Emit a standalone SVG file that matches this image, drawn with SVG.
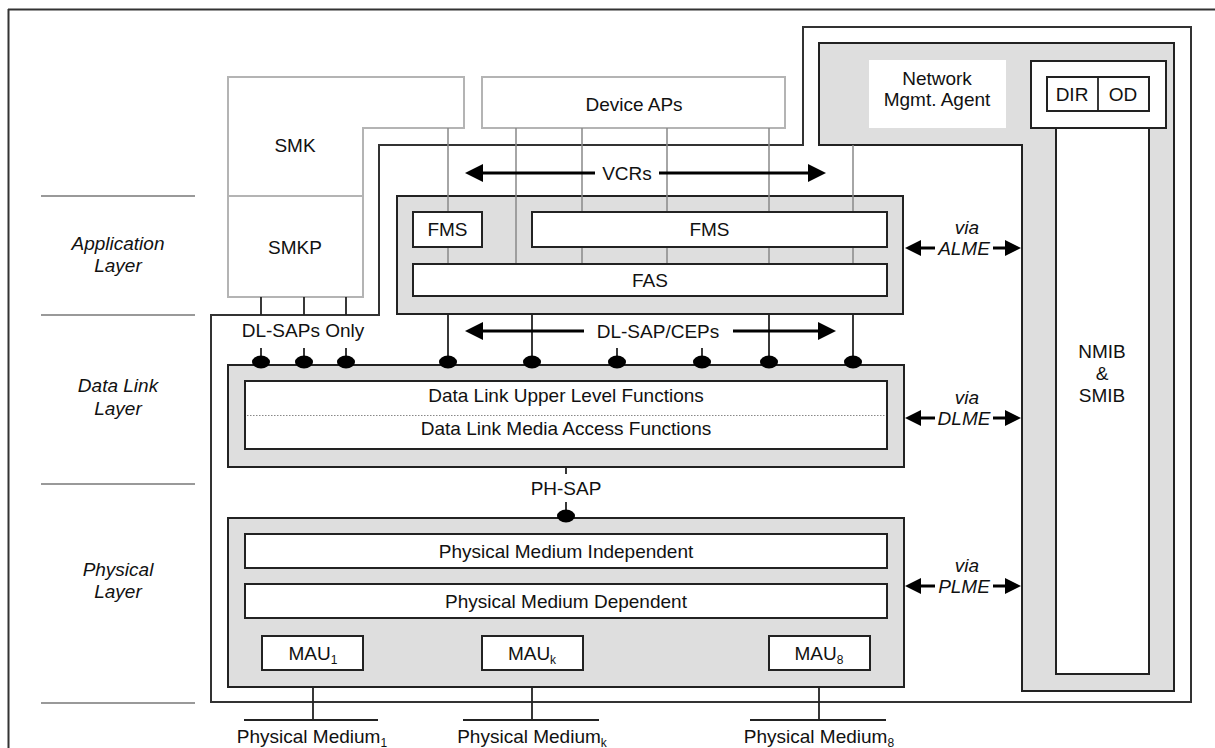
<svg xmlns="http://www.w3.org/2000/svg" width="1215" height="748" viewBox="0 0 1215 748">
<defs>
<style>
text{font-family:"Liberation Sans",Arial,sans-serif;font-size:19px;fill:#111;text-anchor:middle}
.it{font-style:italic}
.sub{font-size:12px}
.frame{fill:none;stroke:#333;stroke-width:2}
.sep{stroke:#999;stroke-width:2}
.lg{fill:#fff;stroke:#b4b4b4;stroke-width:2}
.gb{fill:#dedede;stroke:#222;stroke-width:2}
.wb{fill:#fff;stroke:#222;stroke-width:2}
.gl{stroke:#888;stroke-width:1.5;fill:none}
.bl{stroke:#222;stroke-width:1.8;fill:none}
.dot{fill:#000}
.dotted{stroke:#777;stroke-width:1;stroke-dasharray:2 1.5}
.arr{stroke:#000;stroke-width:3}
</style>
</defs>
<rect width="1215" height="748" fill="#fff"/>
<g id="frame">
<line class="frame" x1="8" y1="9.5" x2="1215" y2="9.5"/>
<line class="frame" x1="8.5" y1="9" x2="8.5" y2="748"/>
</g>
<g id="layer-labels">
<line class="sep" x1="41" y1="196" x2="195" y2="196"/>
<line class="sep" x1="41" y1="315" x2="195" y2="315"/>
<line class="sep" x1="41" y1="484" x2="195" y2="484"/>
<line class="sep" x1="41" y1="703" x2="195" y2="703"/>
<text class="it" x="118" y="250">Application</text>
<text class="it" x="118" y="272">Layer</text>
<text class="it" x="118" y="392">Data Link</text>
<text class="it" x="118" y="415">Layer</text>
<text class="it" x="118" y="576">Physical</text>
<text class="it" x="118" y="598">Layer</text>
</g>
<g id="stack-outline">
<path class="frame" d="M211,702 V315 H379 V145 H803 V27 H1191 V702 Z"/>
</g>
<g id="smk">
<path class="lg" d="M228,77 H464 V128 H363 V297 H228 Z"/>
<line stroke="#b4b4b4" stroke-width="2" x1="228" y1="196" x2="363" y2="196"/>
<text x="295" y="152">SMK</text>
<text x="295" y="254">SMKP</text>
</g>
<g id="device-aps">
<rect class="lg" x="482" y="77" width="303" height="51"/>
<text x="634" y="111">Device APs</text>
</g>
<g id="nma">
<path class="gb" d="M819,43 H1174 V691 H1022 V145 H819 Z"/>
<rect x="869" y="60" width="137" height="68" fill="#fff"/>
<text x="937" y="85">Network</text>
<text x="937" y="106">Mgmt. Agent</text>
<rect class="wb" x="1031" y="61" width="135" height="67"/>
<rect class="wb" x="1047" y="77" width="102" height="34"/>
<line class="bl" x1="1098" y1="77" x2="1098" y2="111"/>
<text x="1072" y="101">DIR</text>
<text x="1123" y="101">OD</text>
<rect class="wb" x="1056" y="128" width="93" height="546"/>
<text x="1102" y="358">NMIB</text>
<text x="1102" y="380">&amp;</text>
<text x="1102" y="402">SMIB</text>
</g>
<g id="app-layer">
<rect class="gb" x="397" y="196" width="506" height="118"/>
</g>
<g id="connectors">
<line class="gl" x1="448" y1="128" x2="448" y2="264"/>
<line class="gl" x1="516" y1="128" x2="516" y2="264"/>
<line class="gl" x1="582" y1="128" x2="582" y2="264"/>
<line class="gl" x1="667" y1="128" x2="667" y2="264"/>
<line class="gl" x1="769" y1="128" x2="769" y2="264"/>
<line class="gl" x1="853" y1="145" x2="853" y2="264"/>
<line class="bl" x1="261" y1="297" x2="261" y2="315"/>
<line class="bl" x1="304" y1="297" x2="304" y2="315"/>
<line class="bl" x1="346" y1="297" x2="346" y2="315"/>
<line class="bl" x1="261" y1="348" x2="261" y2="362"/>
<line class="bl" x1="304" y1="348" x2="304" y2="362"/>
<line class="bl" x1="346" y1="348" x2="346" y2="362"/>
<line class="bl" x1="617" y1="348" x2="617" y2="362"/>
<line class="bl" x1="702" y1="348" x2="702" y2="362"/>
<line class="bl" x1="448" y1="314" x2="448" y2="362"/>
<line class="bl" x1="532" y1="314" x2="532" y2="362"/>
<line class="bl" x1="769" y1="314" x2="769" y2="362"/>
<line class="bl" x1="853" y1="314" x2="853" y2="362"/>
<line class="bl" x1="566" y1="467" x2="566" y2="474"/>
<line class="bl" x1="566" y1="502" x2="566" y2="517"/>
<line class="bl" x1="566" y1="568" x2="566" y2="584"/>
<line class="bl" x1="313" y1="618" x2="313" y2="720"/>
<line class="bl" x1="532" y1="618" x2="532" y2="720"/>
<line class="bl" x1="819" y1="618" x2="819" y2="720"/>
<line class="bl" x1="244" y1="720" x2="378" y2="720"/>
<line class="bl" x1="463" y1="720" x2="599" y2="720"/>
<line class="bl" x1="750" y1="720" x2="886" y2="720"/>
<line class="dotted" x1="366" y1="652" x2="479" y2="652"/>
<line class="dotted" x1="598" y1="652" x2="749" y2="652"/>
<line class="arr" x1="480" y1="173" x2="595" y2="173"/>
<line class="arr" x1="659" y1="173" x2="810" y2="173"/>
<polygon points="465,173 483,164 483,182"/>
<polygon points="826,173 808,164 808,182"/>
<line class="arr" x1="480" y1="331" x2="584" y2="331"/>
<line class="arr" x1="733" y1="331" x2="820" y2="331"/>
<polygon points="465,331 483,322 483,340"/>
<polygon points="836,331 818,322 818,340"/>
<line class="arr" x1="918" y1="248" x2="935" y2="248"/>
<line class="arr" x1="993" y1="248" x2="1008" y2="248"/>
<polygon points="905,248 921,240 921,256"/>
<polygon points="1021,248 1005,240 1005,256"/>
<line class="arr" x1="918" y1="418" x2="935" y2="418"/>
<line class="arr" x1="993" y1="418" x2="1008" y2="418"/>
<polygon points="905,418 921,410 921,426"/>
<polygon points="1021,418 1005,410 1005,426"/>
<line class="arr" x1="918" y1="586" x2="935" y2="586"/>
<line class="arr" x1="993" y1="586" x2="1008" y2="586"/>
<polygon points="905,586 921,578 921,594"/>
<polygon points="1021,586 1005,578 1005,594"/>
</g>
<g id="app-boxes">
<rect class="wb" x="413" y="212" width="69" height="35"/>
<text x="447.5" y="236">FMS</text>
<rect class="wb" x="532" y="212" width="355" height="35"/>
<text x="709.5" y="236">FMS</text>
<rect class="wb" x="413" y="264" width="474" height="32"/>
<text x="650" y="287">FAS</text>
</g>
<g id="labels">
<text x="627" y="180">VCRs</text>
<text x="303" y="337">DL-SAPs Only</text>
<text x="658" y="338">DL-SAP/CEPs</text>
<text x="566" y="495">PH-SAP</text>
<text class="it" x="967" y="234">via</text>
<text class="it" x="964" y="255">ALME</text>
<text class="it" x="967" y="404">via</text>
<text class="it" x="964" y="425">DLME</text>
<text class="it" x="967" y="572">via</text>
<text class="it" x="964" y="593">PLME</text>
</g>
<g id="data-link">
<rect class="gb" x="228" y="365" width="676" height="102"/>
<rect class="wb" x="245" y="381" width="642" height="68"/>
<line stroke="#888" stroke-width="1" stroke-dasharray="1.5 1.5" x1="247" y1="415.5" x2="885" y2="415.5"/>
<text x="566" y="402">Data Link Upper Level Functions</text>
<text x="566" y="435">Data Link Media Access Functions</text>
</g>
<g id="sap-dots">
<ellipse class="dot" cx="261" cy="362" rx="9" ry="6.5"/>
<ellipse class="dot" cx="304" cy="362" rx="9" ry="6.5"/>
<ellipse class="dot" cx="346" cy="362" rx="9" ry="6.5"/>
<ellipse class="dot" cx="448" cy="362" rx="9" ry="6.5"/>
<ellipse class="dot" cx="532" cy="362" rx="9" ry="6.5"/>
<ellipse class="dot" cx="617" cy="362" rx="9" ry="6.5"/>
<ellipse class="dot" cx="702" cy="362" rx="9" ry="6.5"/>
<ellipse class="dot" cx="769" cy="362" rx="9" ry="6.5"/>
<ellipse class="dot" cx="853" cy="362" rx="9" ry="6.5"/>
</g>
<g id="physical">
<rect class="gb" x="228" y="518" width="676" height="169"/>
<ellipse class="dot" cx="566" cy="516" rx="9" ry="6.5"/>
<rect class="wb" x="245" y="534" width="642" height="34"/>
<text x="566" y="558">Physical Medium Independent</text>
<rect class="wb" x="245" y="584" width="642" height="34"/>
<text x="566" y="608">Physical Medium Dependent</text>
</g>
<g id="mau1">
<rect class="wb" x="262" y="636" width="101" height="34"/>
<text x="313" y="660">MAU<tspan class="sub" dy="4">1</tspan></text>
</g>
<g id="mauk">
<rect class="wb" x="482" y="636" width="101" height="34"/>
<text x="532" y="660">MAU<tspan class="sub" dy="4">k</tspan></text>
</g>
<g id="mau8">
<rect class="wb" x="769" y="636" width="101" height="34"/>
<text x="819" y="660">MAU<tspan class="sub" dy="4">8</tspan></text>
</g>
<g id="media">
<text x="312" y="743">Physical Medium<tspan class="sub" dy="4">1</tspan></text>
<text x="532" y="743">Physical Medium<tspan class="sub" dy="4">k</tspan></text>
<text x="819" y="743">Physical Medium<tspan class="sub" dy="4">8</tspan></text>
</g>
</svg>
